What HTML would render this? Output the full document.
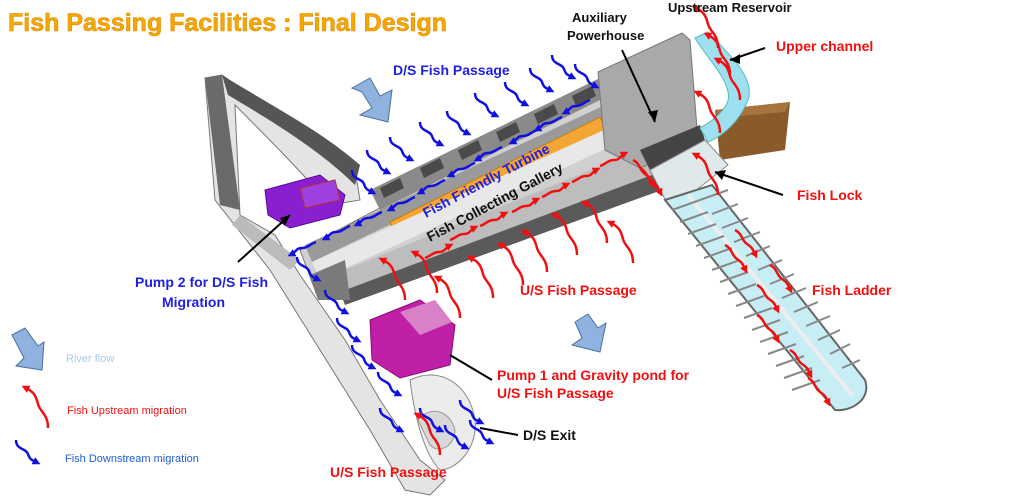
<!DOCTYPE html>
<html><head><meta charset="utf-8"><style>
html,body{margin:0;padding:0;background:#fff;}
body{width:1024px;height:499px;overflow:hidden;position:relative;font-family:"Liberation Sans",sans-serif;}
svg{position:absolute;left:0;top:0;}
</style></head><body>
<svg width="1024" height="499" viewBox="0 0 1024 499" xmlns="http://www.w3.org/2000/svg">
<defs>
<marker id="mb" markerUnits="userSpaceOnUse" markerWidth="8" markerHeight="8" refX="3" refY="4" orient="auto"><path d="M0,0 L8,4 L0,8z" fill="#1010e0"/></marker>
<marker id="mr" markerUnits="userSpaceOnUse" markerWidth="8" markerHeight="8" refX="3" refY="4" orient="auto"><path d="M0,0 L8,4 L0,8z" fill="#f01010"/></marker>
<path id="ba" d="M0,0 C0,10 10,8 12,14 S16,20 20,22" fill="none" stroke="#1010e0" stroke-width="2.5" marker-end="url(#mb)"/>
<path id="bg" d="M0,0 C-6,2 -8,6 -14,6 S-20,10 -24,12" fill="none" stroke="#1010e0" stroke-width="2.5" marker-end="url(#mb)"/>
<path id="ra" d="M0,0 C0,-14 -8,-16 -10,-24 S-14,-36 -22,-40" fill="none" stroke="#f01010" stroke-width="2.5" marker-end="url(#mr)"/>
<path id="rg" d="M0,0 C6,-2 8,-6 14,-6 S20,-10 24,-12" fill="none" stroke="#f01010" stroke-width="2.5" marker-end="url(#mr)"/>
<path id="rl" d="M0,0 C8,4 6,10 12,14 S18,20 20,24" fill="none" stroke="#f01010" stroke-width="2.5" marker-end="url(#mr)"/>
</defs>

<!-- left wing structure -->
<path d="M205,78 L222,75 C270,110 330,140 355,170 L360,200 L330,205 C300,170 260,130 235,105 L240,215 L275,235 L300,275 L345,340 L380,400 L420,460 L445,480 L430,495 L405,490 L370,430 L320,350 L270,270 L215,200 Z" fill="#e4e4e4" stroke="#777" stroke-width="1"/>
<path d="M205,78 L222,75 L240,210 L220,205 Z" fill="#6a6a6a"/>
<path d="M222,75 C270,105 320,130 360,165 L355,185 C320,150 270,120 228,95 Z" fill="#555"/>
<path d="M240,215 L300,260 L290,270 L232,225 Z" fill="#bbb"/>
<path d="M410,380 C440,365 470,385 475,420 C478,450 455,470 440,470 C425,455 415,420 410,380 Z" fill="#ececec" stroke="#888"/>
<path d="M418,420 C430,405 450,410 455,430 C455,445 440,455 430,445 Z" fill="#d8d8d8" stroke="#999"/>

<!-- main dam block -->
<path d="M300,250 L600,92 L640,150 L660,152 L672,178 L318,298 Z" fill="#d0d0d0" stroke="#777"/>
<path d="M370,190 L600,78 L610,95 L380,210 Z" fill="#8a8a8a"/>
<g fill="#4a4a4a">
<path d="M380,188 l20,-10 l4,10 l-20,10z"/><path d="M420,168 l20,-10 l4,10 l-20,10z"/><path d="M458,150 l20,-10 l4,10 l-20,10z"/><path d="M496,132 l20,-10 l4,10 l-20,10z"/><path d="M534,114 l20,-10 l4,10 l-20,10z"/><path d="M572,96 l20,-10 l4,10 l-20,10z"/>
</g>
<path d="M305,245 L605,105 L612,118 L312,262 Z" fill="#9a9a9a"/>
<path d="M390,222 L600,117 L606,130 L396,238 Z" fill="#f3a634" stroke="#c47a10" stroke-width="1"/>
<path d="M312,262 L615,125 L625,140 L320,280 Z" fill="#e8e8e8"/>
<path d="M320,280 L640,150 L665,185 L330,300 Z" fill="#bdbdbd"/>
<path d="M340,292 L660,172 L662,190 L345,305 Z" fill="#5a5a5a"/>
<path d="M310,275 L345,260 L350,300 L318,300 Z" fill="#7a7a7a"/>

<!-- powerhouse -->
<path d="M598,72 L682,33 L690,40 L697,128 L660,160 L640,168 L605,150 Z" fill="#a9a9a9" stroke="#777"/>
<path d="M640,150 L700,125 L705,140 L650,170 Z" fill="#444"/>

<!-- brown box -->
<path d="M715,110 L790,102 L785,150 L720,160 Z" fill="#8b5a2b"/>
<path d="M715,110 L790,102 L785,112 L718,118 Z" fill="#a8743e"/>
<!-- upper channel -->
<path d="M695,38 L708,32 C735,60 755,80 748,100 C740,120 725,135 708,142 L700,128 C715,120 732,105 728,92 C725,75 705,55 695,38 Z" fill="#9ee0f0" stroke="#5bb" stroke-width="1"/>

<!-- fish lock area -->
<path d="M650,170 L705,140 L728,165 L690,195 L668,205 Z" fill="#dfe8ea" stroke="#888"/>
<!-- fish ladder -->
<path d="M665,200 L712,185 L865,380 C872,400 850,412 835,410 Z" fill="#c8eef5" stroke="#666" stroke-width="2"/>
<path d="M688,195 L852,395" stroke="#eee" stroke-width="4"/>
<g stroke="#888" stroke-width="2">
<path d="M672,210 L700,200 M680,222 L708,212 M688,234 L716,224 M696,246 L724,236 M704,258 L732,248 M712,270 L740,260 M720,282 L748,272 M728,294 L756,284 M736,306 L764,296 M744,318 L772,308 M752,330 L780,320 M760,342 L788,332 M768,354 L796,344 M776,366 L804,356 M784,378 L812,368 M792,390 L820,380"/>
<path d="M700,200 L728,190 M712,214 L738,204 M722,228 L748,218 M734,242 L760,232 M746,256 L770,246 M758,270 L782,260 M770,284 L794,274 M782,298 L806,288 M794,312 L818,302 M806,326 L830,316 M818,340 L840,330 M830,354 L850,344 M842,368 L860,360"/>
</g>

<!-- pumps -->
<path d="M265,190 L320,175 L345,195 L340,215 L290,228 L268,215 Z" fill="#8a1fd0" stroke="#5a0a90"/>
<path d="M300,188 L335,180 L340,200 L305,208 Z" fill="#a040e0" stroke="#a33"/>
<path d="M370,320 L420,300 L455,325 L450,365 L400,378 L372,360 Z" fill="#c020a8" stroke="#801070"/>
<path d="M400,312 L435,300 L452,322 L420,335 Z" fill="#d880c8"/>

<!-- blue big arrows -->
<path d="M352,88 L370,78 L380,96 L392,90 L388,122 L360,115 L372,108 L362,92 Z" fill="#8fb2de" stroke="#4a6fa0"/>
<path d="M575,322 L588,314 L598,328 L606,323 L600,352 L572,345 L582,338 Z" fill="#8fb2de" stroke="#4a6fa0"/>
<path d="M12,335 L25,328 L38,346 L44,342 L42,370 L16,366 L24,358 Z" fill="#8fb2de" stroke="#4a6fa0"/>

<!-- blue arrows -->
<g>
<use href="#ba" x="367" y="150"/><use href="#ba" x="390" y="137"/><use href="#ba" x="420" y="122"/><use href="#ba" x="447" y="111"/><use href="#ba" x="475" y="93"/><use href="#ba" x="505" y="82"/><use href="#ba" x="530" y="68"/><use href="#ba" x="552" y="55"/><use href="#ba" x="575" y="64"/><use href="#ba" x="352" y="170"/>
<use href="#bg" x="590" y="100"/><use href="#bg" x="562" y="117"/><use href="#bg" x="537" y="130"/><use href="#bg" x="502" y="147"/><use href="#bg" x="475" y="163"/><use href="#bg" x="445" y="180"/><use href="#bg" x="415" y="197"/><use href="#bg" x="382" y="212"/><use href="#bg" x="350" y="226"/><use href="#bg" x="316" y="242"/>
<use href="#ba" x="297" y="257"/><use href="#ba" x="325" y="290"/><use href="#ba" x="337" y="318"/><use href="#ba" x="352" y="345"/><use href="#ba" x="378" y="372"/><use href="#ba" x="380" y="408"/><use href="#ba" x="420" y="408"/><use href="#ba" x="445" y="425"/><use href="#ba" x="460" y="400"/><use href="#ba" x="470" y="420"/>
<use href="#ba" x="16" y="440"/>
</g>
<!-- red arrows -->
<g>
<use href="#ra" x="460" y="318"/><use href="#ra" x="493" y="298"/><use href="#ra" x="523" y="285"/><use href="#ra" x="547" y="272"/><use href="#ra" x="577" y="255"/><use href="#ra" x="607" y="243"/><use href="#ra" x="633" y="263"/><use href="#ra" x="437" y="293"/><use href="#ra" x="405" y="300"/>
<use href="#rg" x="425" y="258"/><use href="#rg" x="450" y="240"/><use href="#rg" x="480" y="226"/><use href="#rg" x="512" y="212"/><use href="#rg" x="542" y="197"/><use href="#rg" x="572" y="182"/><use href="#rg" x="600" y="166"/>
<use href="#rl" x="633" y="160"/><use href="#rl" x="640" y="168"/>
<use href="#ra" x="718" y="195"/>
<use href="#ra" x="720" y="133"/><use href="#ra" x="740" y="100"/><use href="#ra" x="730" y="75"/><use href="#ra" x="718" y="48"/>
<use href="#rl" x="725" y="245"/><use href="#rl" x="757" y="285"/><use href="#rl" x="757" y="315"/><use href="#rl" x="790" y="350"/><use href="#rl" x="808" y="378"/><use href="#rl" x="735" y="230"/><use href="#rl" x="770" y="265"/>
<use href="#ra" x="440" y="455"/>
<use href="#ra" x="48" y="428"/>
</g>

<!-- leader lines -->
<g stroke="#000" stroke-width="2">
<line x1="622" y1="50" x2="655" y2="122"/>
<line x1="765" y1="48" x2="730" y2="60"/>
<line x1="783" y1="195" x2="715" y2="172"/>
<line x1="238" y1="262" x2="290" y2="215"/>
<line x1="492" y1="380" x2="450" y2="355"/>
<line x1="518" y1="435" x2="480" y2="428"/>
</g>
<polygon points="655,122 648,112 658,110" fill="#000"/>
<polygon points="730,60 740,54 740,64" fill="#000"/>
<polygon points="715,172 726,170 722,180" fill="#000"/>
<polygon points="290,215 280,218 285,226" fill="#000"/>

<g font-family="Liberation Sans, sans-serif" font-weight="bold">
<text x="8" y="31" font-size="25" fill="#f5a800" stroke="#e08a00" stroke-width="0.6">Fish Passing Facilities : Final Design</text>
<text x="393" y="75" font-size="14" fill="#2020e0">D/S Fish Passage</text>
<text x="572" y="22" font-size="13" fill="#111">Auxiliary</text>
<text x="567" y="40" font-size="13" fill="#111">Powerhouse</text>
<text x="668" y="12" font-size="13" fill="#111">Upstream Reservoir</text>
<text x="776" y="51" font-size="14" fill="#f01010">Upper channel</text>
<text x="797" y="200" font-size="14" fill="#f01010">Fish Lock</text>
<text x="812" y="295" font-size="14" fill="#f01010">Fish Ladder</text>
<text x="520" y="295" font-size="14" fill="#f01010">U/S Fish Passage</text>
<text x="135" y="287" font-size="14" fill="#2020e0">Pump 2 for D/S Fish</text>
<text x="162" y="307" font-size="14" fill="#2020e0">Migration</text>
<text x="497" y="380" font-size="14" fill="#f01010">Pump 1 and Gravity pond for</text>
<text x="497" y="398" font-size="14" fill="#f01010">U/S Fish Passage</text>
<text x="523" y="440" font-size="14" fill="#111">D/S Exit</text>
<text x="330" y="477" font-size="14" fill="#f01010">U/S Fish Passage</text>
<text transform="translate(426,218) rotate(-28)" font-size="14" fill="#2020e0">Fish Friendly Turbine</text>
<text transform="translate(430,242) rotate(-28)" font-size="14" fill="#111">Fish Collecting Gallery</text>
</g>
<g font-family="Liberation Sans, sans-serif" font-size="11">
<text x="66" y="362" fill="#a8c8ee">River flow</text>
<text x="67" y="414" fill="#f01010">Fish Upstream migration</text>
<text x="65" y="462" fill="#2060d0">Fish Downstream migration</text>
</g>
</svg>
</body></html>
